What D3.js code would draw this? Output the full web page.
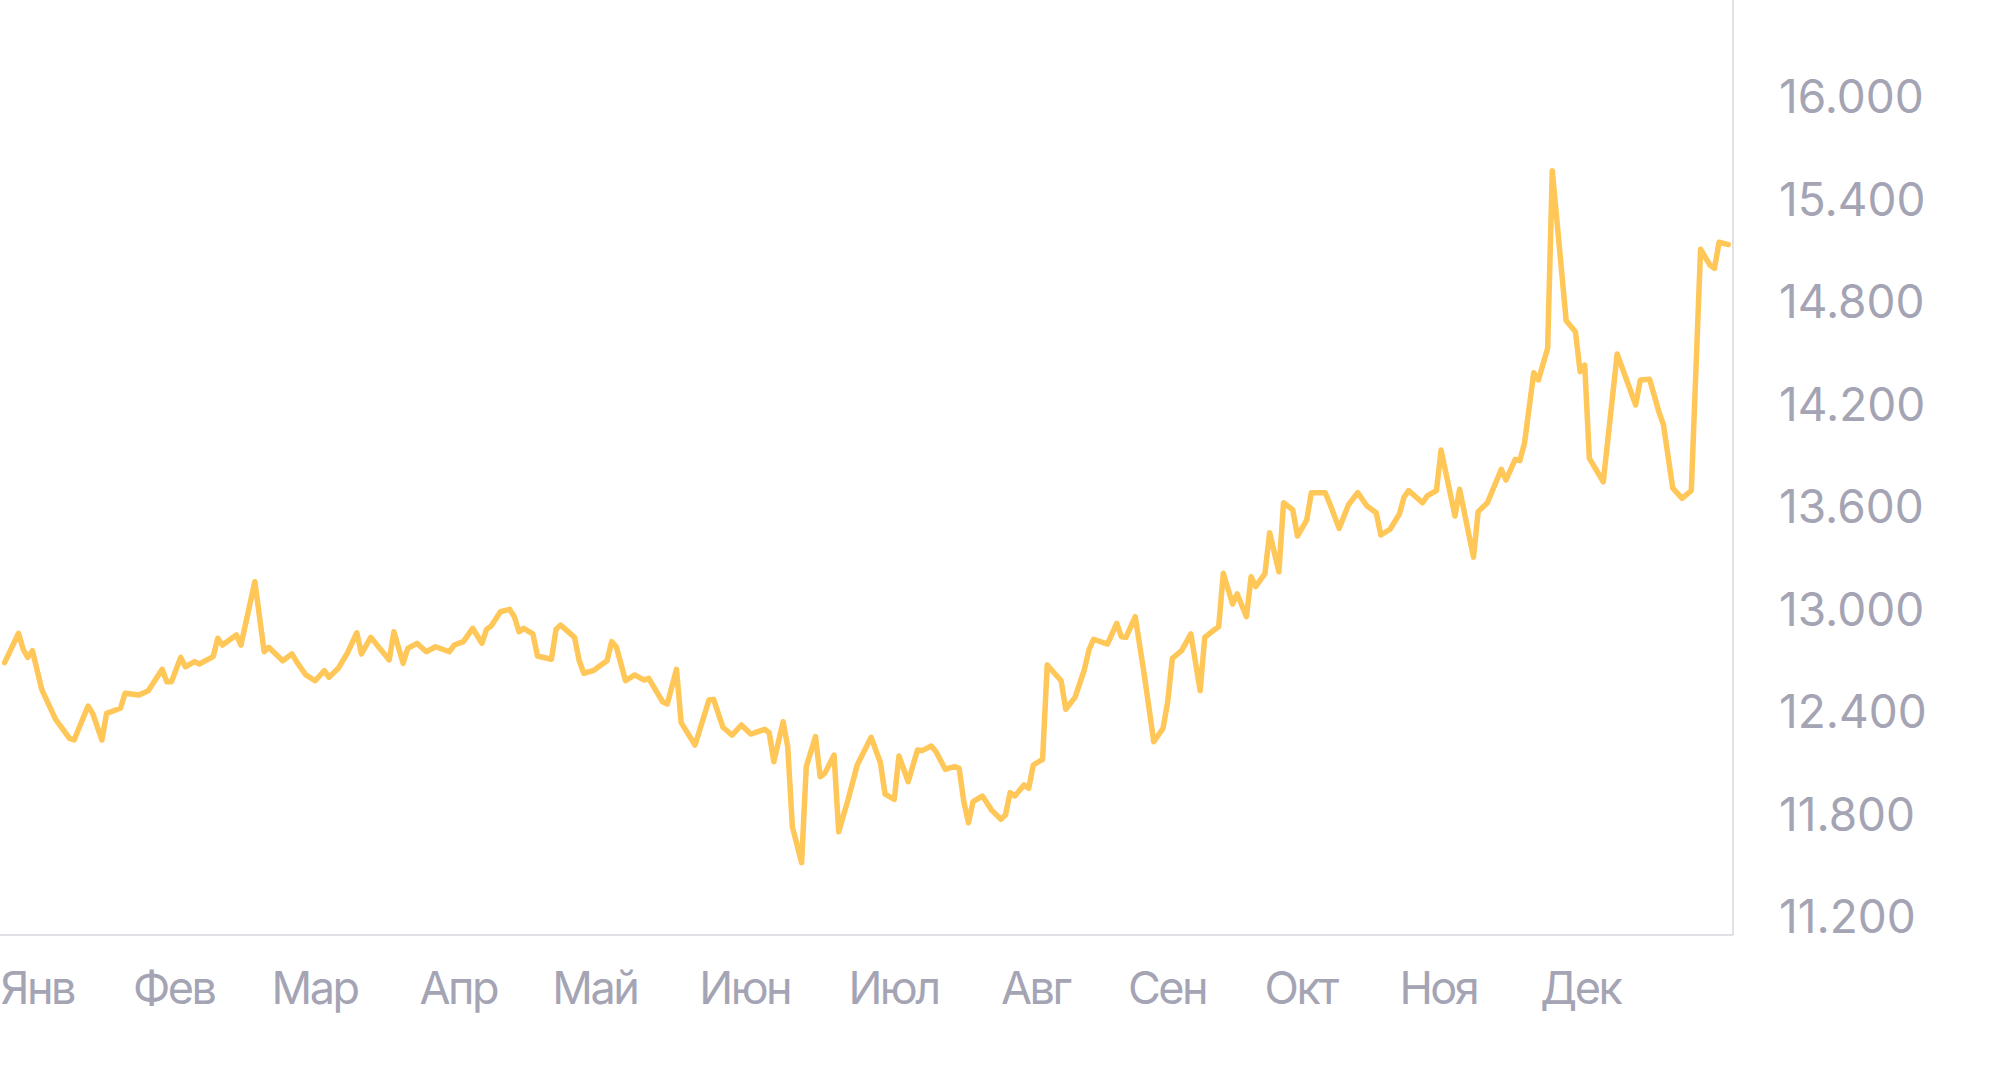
<!DOCTYPE html>
<html><head><meta charset="utf-8">
<script src="https://cdn.jsdelivr.net/npm/d3@7"></script>
<style>html,body{margin:0;padding:0;background:#fff;overflow:hidden}</style>
</head><body>
<svg id="chart" width="2000" height="1090"></svg>
<script>
// Day offsets (from the first label) and values of the series
const days = [1,4,5,6,7,9,12,15,16,19,20,22,23,26,27,30,32,35,36,37,39,40,42,43,46,47,48,51,52,55,
57,58,61,63,64,66,68,70,71,73,75,77,78,80,84,85,87,88,90,92,94,97,98,100,102,104,105,106,108,110,
111,112,113,115,116,119,120,121,124,125,126,128,131,132,133,135,137,139,140,143,144,146,147,150,153,154,156,158,160,162,
165,166,167,169,170,171,173,174,176,177,178,180,181,183,185,188,190,191,193,194,196,198,199,201,202,204,206,207,208,209,
210,212,214,216,217,218,219,221,222,223,225,226,229,230,232,234,235,236,239,241,242,243,245,247,249,251,252,253,255,257,
259,260,262,263,264,266,267,269,270,271,273,274,276,277,279,280,282,283,286,287,289,291,293,295,297,298,300,302,303,304,
307,308,310,311,314,315,318,319,321,324,325,327,328,329,331,332,334,335,338,340,341,342,343,346,349,353,354,356,358,359,
361,363,365,367,369,370,371,373];
const values = [12683,12855,12761,12714,12753,12527,12351,12240,12230,12429,12386,12230,12386,12416,12504,12494,12519,12644,12571,12571,12714,12659,12689,12675,12718,12826,12786,12845,12786,13157,
12747,12773,12694,12734,12689,12611,12577,12636,12597,12650,12741,12858,12734,12831,12699,12864,12679,12767,12796,12747,12776,12747,12786,12806,12884,12796,12878,12898,12981,12995,
12952,12864,12884,12851,12722,12703,12878,12903,12831,12694,12621,12636,12694,12806,12776,12577,12611,12581,12591,12454,12441,12644,12332,12201,12464,12468,12305,12259,12318,12265,
12293,12273,12103,12337,12191,11723,11512,12074,12250,12015,12035,12142,11693,11879,12084,12246,12097,11914,11883,12137,11986,12172,12168,12195,12162,12059,12074,12064,11869,11746,
11869,11902,11820,11766,11791,11922,11902,11967,11947,12084,12117,12669,12577,12410,12480,12640,12757,12820,12792,12913,12835,12831,12952,12601,12220,12299,12454,12708,12753,12851,
12519,12831,12874,12893,13206,13026,13085,12952,13186,13128,13206,13444,13215,13619,13577,13424,13518,13678,13678,13612,13469,13606,13678,13600,13561,13430,13464,13553,13651,13690,
13619,13659,13690,13928,13541,13698,13300,13567,13619,13815,13752,13873,13865,13967,14380,14338,14523,15563,14685,14620,14386,14425,13879,13742,14490,14191,14338,14342,14152,14074,
13704,13645,13690,15103,15011,14991,15144,15130];

const monthLabels = ["Янв","Фев","Мар","Апр","Май","Июн","Июл","Авг","Сен","Окт","Ноя","Дек"];
const monthTickDays = [0, 28.6, 58.5, 90.4, 119.1, 150.8, 183, 215.9, 243.3, 272.8, 301.9, 332.3];
const yTicks = [11200, 11800, 12400, 13000, 13600, 14200, 14800, 15400, 16000];

const data = days.map((d, i) => ({ day: d, value: values[i] }));

const svg = d3.select("#chart");
const plotRight = 1733, plotBottom = 935;
const font = "Inter, 'Noto Sans', sans-serif";
const textColor = "#a4a4b4";
const axisColor = "#d6d6de";

const x = d3.scaleLinear().domain([0, 374]).range([0, plotRight]);
const y = d3.scaleLinear().domain([11200, 16000]).range([916, 96]);

const ru = d3.formatLocale({ decimal: ",", thousands: ".", grouping: [3], currency: ["", " ₽"] });
const fmt = ru.format(",d");

// axis lines
svg.append("line").attr("x1", plotRight).attr("x2", plotRight).attr("y1", 0).attr("y2", plotBottom)
  .attr("stroke", axisColor).attr("stroke-width", 1.5);
svg.append("line").attr("x1", 0).attr("x2", plotRight).attr("y1", plotBottom).attr("y2", plotBottom)
  .attr("stroke", axisColor).attr("stroke-width", 1.5);

// y axis (right)
const yAxis = svg.append("g").attr("transform", `translate(${plotRight},0)`)
  .call(d3.axisRight(y).tickValues(yTicks).tickFormat(fmt).tickSize(0).tickPadding(46));
yAxis.select(".domain").remove();
yAxis.selectAll("text").attr("dy", "0.365em").attr("fill", textColor)
  .style("font-family", font).style("font-size", "46px");

// x axis (bottom)
const xAxis = svg.append("g").attr("transform", `translate(0,${plotBottom})`)
  .call(d3.axisBottom(x).tickValues(monthTickDays).tickFormat((d, i) => monthLabels[i]).tickSize(0));
xAxis.select(".domain").remove();
xAxis.selectAll("text").attr("y", 69).attr("dy", 0).attr("text-anchor", "start").attr("fill", textColor)
  .style("font-family", font).style("font-size", "45px").style("letter-spacing", "-2.5px");

// line
const line = d3.line().x(d => x(d.day)).y(d => y(d.value)).curve(d3.curveLinear);
svg.append("path").datum(data).attr("d", line).attr("fill", "none")
  .attr("stroke", "#ffc658").attr("stroke-width", 5.5).attr("stroke-linejoin", "round").attr("stroke-linecap", "round");
</script>
</body></html>
